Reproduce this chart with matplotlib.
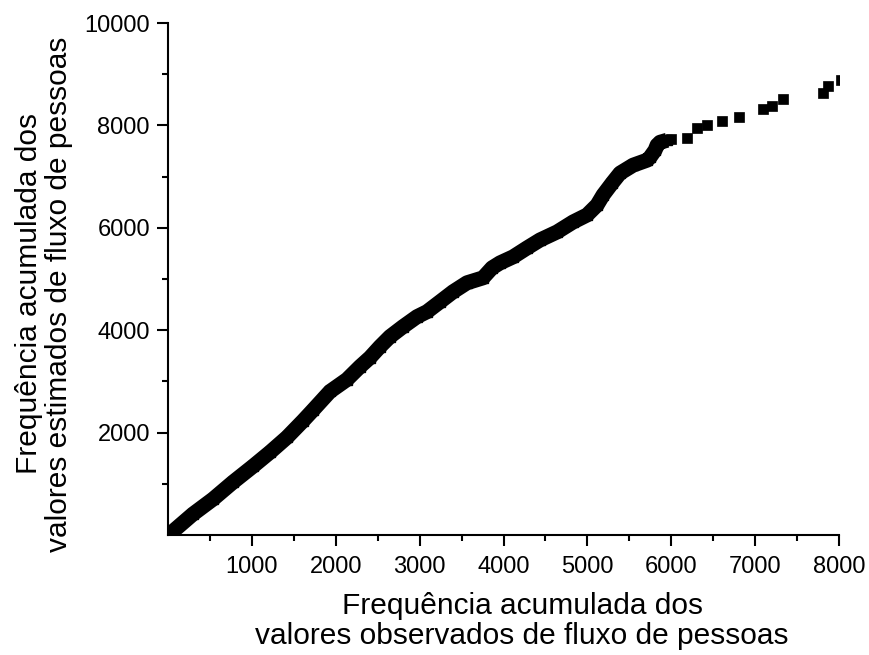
import matplotlib
matplotlib.use("Agg")
import matplotlib.pyplot as plt
from matplotlib.ticker import FixedLocator

plt.rcParams['font.family'] = ['Liberation Sans', 'DejaVu Sans']

# Dense part of the cumulative curve (observed, estimated)
obs_dense = [30, 298, 537, 775, 1014, 1216, 1419, 1610, 1729, 1932, 2134, 2290,
             2409, 2528, 2647, 2802, 2969, 3088, 3244, 3399, 3565, 3756, 3864,
             3959, 4114, 4281, 4436, 4639, 4830, 4996, 5116, 5187, 5295, 5390,
             5545, 5712, 5748, 5807, 5831, 5867, 5951]
est_dense = [30, 409, 701, 1032, 1343, 1616, 1908, 2230, 2440, 2804, 3037, 3290,
             3466, 3680, 3875, 4069, 4264, 4361, 4556, 4751, 4926, 5023, 5218,
             5315, 5432, 5607, 5763, 5919, 6114, 6250, 6445, 6639, 6873, 7068,
             7223, 7321, 7379, 7515, 7613, 7671, 7710]

# Sparse upper part
obs_sparse = [5998, 6189, 6308, 6427, 6606, 6809, 7095, 7203, 7334, 7811, 7871, 8025]
est_sparse = [7730, 7749, 7944, 8002, 8080, 8158, 8314, 8372, 8508, 8625, 8762, 8878]

x_major = [1000, 2000, 3000, 4000, 5000, 6000, 7000, 8000]
x_minor = [500, 1500, 2500, 3500, 4500, 5500, 6500, 7500]
y_major = [2000, 4000, 6000, 8000, 10000]
y_minor = [1000, 3000, 5000, 7000, 9000]

xlabel = "Frequência acumulada dos\nvalores observados de fluxo de pessoas"
ylabel = "Frequência acumulada dos\nvalores estimados de fluxo de pessoas"

fig = plt.figure(figsize=(8.69, 6.55), dpi=100)
ax = fig.add_axes([168/869, 1-535/655, (839-168)/869, (535-23)/655])

ax.plot(obs_dense, est_dense, color='black', lw=10.8, solid_capstyle='butt',
        solid_joinstyle='round', marker='s', ms=7.5, mec='black', mfc='black')
ax.plot(obs_sparse, est_sparse, ls='none', marker='s', ms=7.0, color='black',
        mec='black', mew=0.5)

ax.set_xlim(0, 8000)
ax.set_ylim(0, 10000)

for s in ['top', 'right']:
    ax.spines[s].set_visible(False)
for s in ['left', 'bottom']:
    ax.spines[s].set_linewidth(1.5)

ax.xaxis.set_major_locator(FixedLocator(x_major))
ax.xaxis.set_minor_locator(FixedLocator(x_minor))
ax.yaxis.set_major_locator(FixedLocator(y_major))
ax.yaxis.set_minor_locator(FixedLocator(y_minor))
ax.tick_params(which='major', direction='out', length=8, width=1.5,
               labelsize=17, color='black')
ax.tick_params(which='minor', direction='out', length=4.3, width=1.5)
ax.tick_params(axis='x', which='major', pad=7)
ax.tick_params(axis='y', which='major', pad=5)

ax.set_xlabel(xlabel, fontsize=21.5, linespacing=1.12)
ax.xaxis.label.set_verticalalignment('center')
ax.xaxis.set_label_coords((522-168)/671, (535-621)/512)
ax.set_ylabel(ylabel, fontsize=21.5, linespacing=1.12)
ax.yaxis.label.set_verticalalignment('center')
ax.yaxis.set_label_coords((44-168)/671, (535-294)/512)

fig.savefig("out.png", dpi=100)
